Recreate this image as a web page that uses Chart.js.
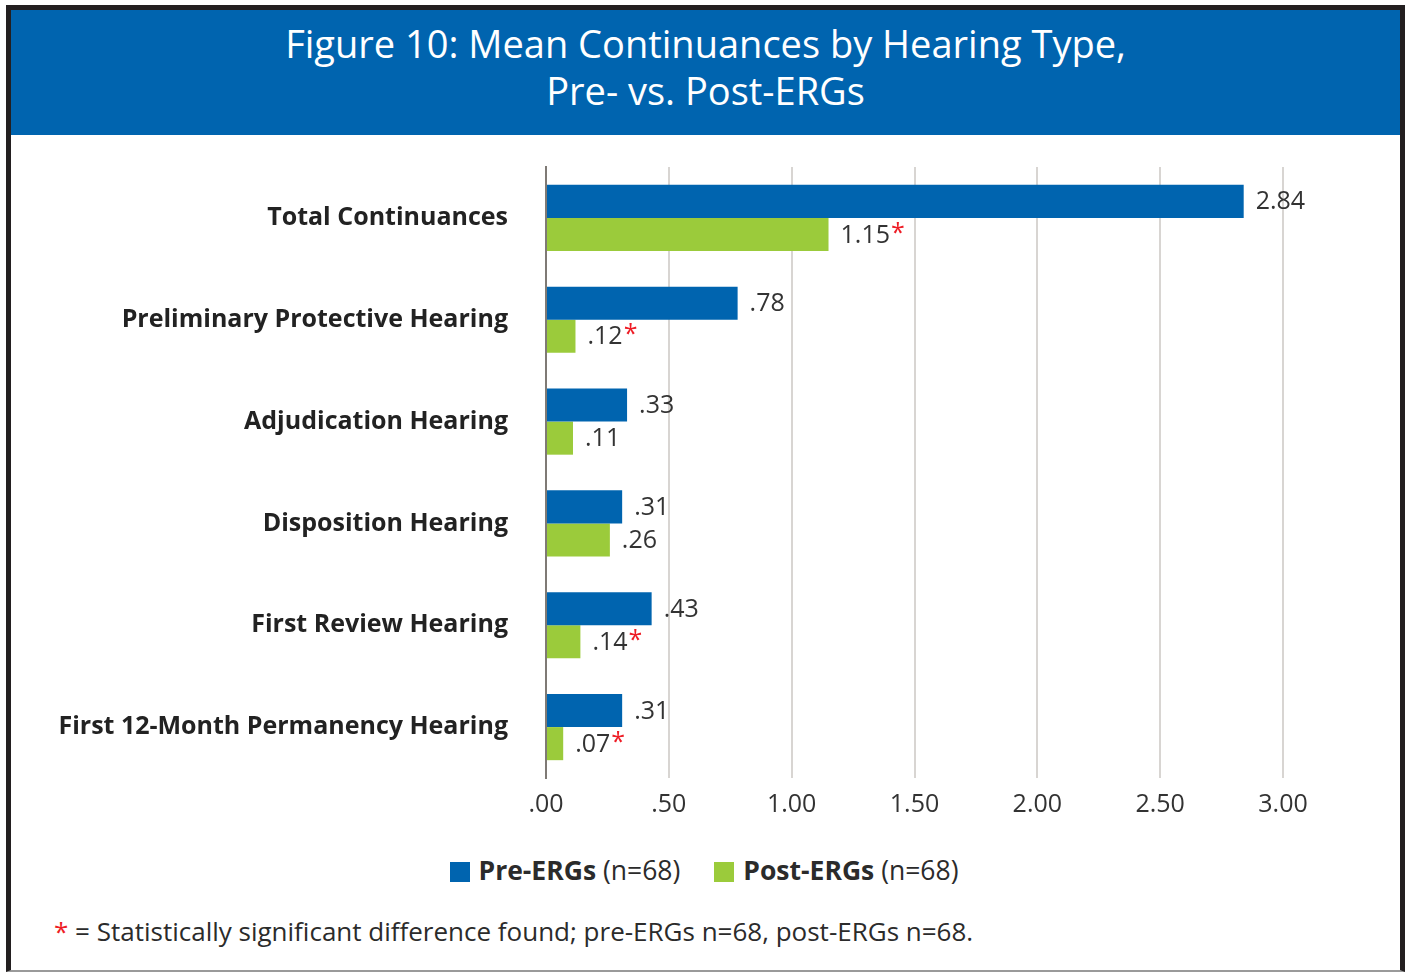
<!DOCTYPE html>
<html>
<head>
<meta charset="utf-8">
<script src="https://cdn.jsdelivr.net/npm/chart.js@4/dist/chart.umd.min.js"></script>
<style>
  html, body { margin: 0; padding: 0; background: #fff; }
  body { width: 1408px; height: 973px; position: relative; overflow: hidden; font-family: "Open Sans", sans-serif; color: #2b2b2b; }
  #frame { position: absolute; left: 6px; top: 5px; width: 1389px; height: 960px; border: 5px solid #231f20; border-bottom: 2px solid #9a9a9a; }
  #titleBar { position: absolute; left: 11px; top: 10px; width: 1389px; height: 125px; background: #0064af; color: #fff; text-align: center; font-size: 38px; line-height: 47px; }
  #titleBar div { padding-top: 10px; }
  #chartBox { position: absolute; left: 11px; top: 135px; width: 1388px; height: 700px; }
  #legend { position: absolute; left: 0; top: 852px; width: 1408px; text-align: center; font-size: 26.5px; }
  #legend span.item { display: inline-block; margin: 0 17px; }
  #legend i { display: inline-block; width: 20px; height: 20px; vertical-align: -2px; margin-right: 9px; }
  #note { position: absolute; left: 54px; top: 913px; font-size: 26px; }
  .star { color: #ee1c25; }
</style>
</head>
<body>
<div id="frame"></div>
<div id="titleBar"><div>Figure 10: Mean Continuances by Hearing Type,<br>Pre- vs. Post-ERGs</div></div>
<div id="chartBox"><canvas id="barChart" width="1388" height="700"></canvas></div>
<div id="legend"></div>
<div id="note"><span class="star">*</span> = Statistically significant difference found; pre-ERGs n=68, post-ERGs n=68.</div>
<script>
// Данные графика
const categories = [
    'Total Continuances',
    'Preliminary Protective Hearing',
    'Adjudication Hearing',
    'Disposition Hearing',
    'First Review Hearing',
    'First 12-Month Permanency Hearing'
];
const preValues = [2.84, 0.78, 0.33, 0.31, 0.43, 0.31];
const postValues = [1.15, 0.12, 0.11, 0.26, 0.14, 0.07];
const postSignificant = [true, true, false, false, true, true];
const seriesNames = ['Pre-ERGs', 'Post-ERGs'];
const seriesNotes = ['(n=68)', '(n=68)'];
const xMin = 0;
const xMax = 3;
const xStep = 0.5;

const BLUE = '#0064af';
const GREEN = '#9bcb3b';
const FONT = '"Open Sans", sans-serif';

function formatValue(v) {
    const s = v.toFixed(2);
    return s.startsWith('0') ? s.slice(1) : s;
}

// Легенда
const legendEl = document.getElementById('legend');
[BLUE, GREEN].forEach(function(color, i) {
    const item = document.createElement('span');
    item.className = 'item';
    item.innerHTML = '<i style="background:' + color + '"></i><b>' + seriesNames[i] + '</b> ' + seriesNotes[i];
    legendEl.appendChild(item);
});

// Подписи значений справа от столбцов
const valueLabels = {
    id: 'valueLabels',
    afterDatasetsDraw(chart) {
        const ctx = chart.ctx;
        ctx.save();
        ctx.font = '25px ' + FONT;
        ctx.textBaseline = 'middle';
        ctx.textAlign = 'left';
        chart.data.datasets.forEach(function(ds, di) {
            chart.getDatasetMeta(di).data.forEach(function(bar, i) {
                const text = formatValue(ds.data[i]);
                const x = bar.x + 12;
                const y = bar.y + 1;
                ctx.fillStyle = '#333';
                ctx.fillText(text, x, y);
                if (di === 1 && postSignificant[i]) {
                    const w = ctx.measureText(text).width;
                    ctx.fillStyle = '#ee1c25';
                    ctx.fillText('*', x + w + 1, y - 2);
                }
            });
        });
        ctx.restore();
    }
};

new Chart(document.getElementById('barChart'), {
    type: 'bar',
    data: {
        labels: categories,
        datasets: [
            { label: seriesNames[0], data: preValues, backgroundColor: BLUE, categoryPercentage: 0.65, barPercentage: 1 },
            { label: seriesNames[1], data: postValues, backgroundColor: GREEN, categoryPercentage: 0.65, barPercentage: 1 }
        ]
    },
    options: {
        indexAxis: 'y',
        responsive: false,
        animation: false,
        devicePixelRatio: 1,
        layout: { padding: { top: 32, right: 116, left: 0, bottom: 0 } },
        plugins: {
            legend: { display: false },
            tooltip: { enabled: false }
        },
        scales: {
            x: {
                min: xMin,
                max: xMax,
                ticks: {
                    stepSize: xStep,
                    color: '#333',
                    padding: 12,
                    font: { family: FONT, size: 25 },
                    callback: function(value) { return formatValue(value); }
                },
                grid: { color: '#d8d5d2', lineWidth: 2, drawTicks: false },
                border: { display: false },
                afterFit: function(scale) { scale.height = 57; }
            },
            y: {
                ticks: {
                    color: '#222',
                    padding: 38,
                    font: { family: FONT, size: 25, weight: 'bold' }
                },
                grid: { display: false, drawTicks: false },
                border: { display: true, color: '#7f7a75', width: 2, z: 1 },
                afterFit: function(scale) {
                    scale.width = 535;
                    scale.paddingTop = 0;
                    scale.paddingBottom = 0;
                }
            }
        }
    },
    plugins: [valueLabels]
});
</script>
</body>
</html>
